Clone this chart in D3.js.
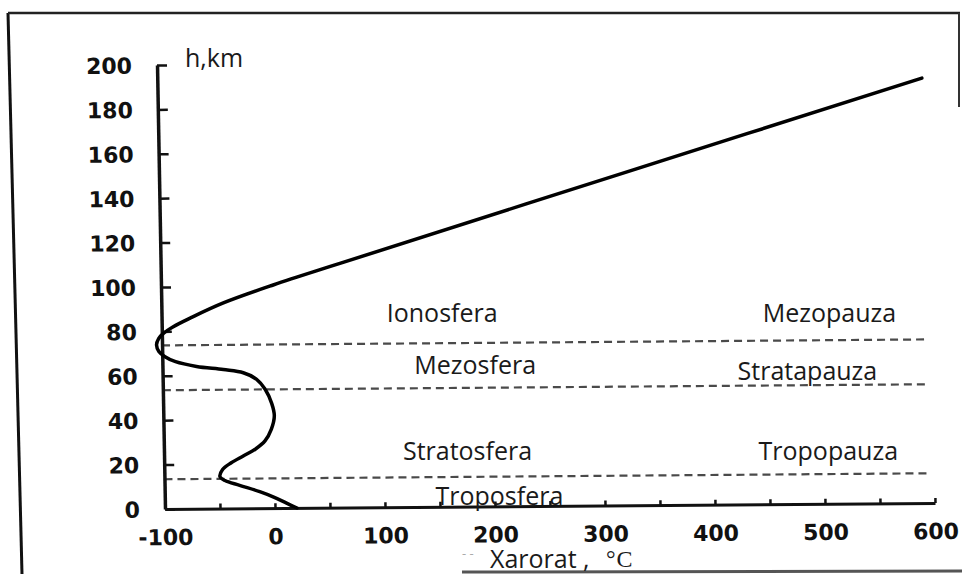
<!DOCTYPE html>
<html><head><meta charset="utf-8">
<script src="https://cdn.jsdelivr.net/npm/d3@7"></script>
<style>body{margin:0;background:#fff;} svg{display:block;}</style>
</head><body>
<svg id="chart" width="962" height="574"></svg>
<script>
// ---- data ----
const altitudeKm   = [0, 2.2, 5, 7.5, 10.4, 12.6, 14.4, 17.6, 20.6, 23.6, 26.6, 30.3, 35.6, 41.6, 47.2, 53.6, 58.1, 61.1, 62.6, 64.1, 66.3, 68.6, 71, 73.9, 76.8, 79.1, 82.1, 85.9, 92.6, 100.5, 110, 150, 191.4];
const temperatureC = [20, 10.6, -1, -13.6, -31.8, -45, -49.5, -47, -39, -28, -17, -8, -2, 0.9, -1.3, -7, -14.6, -26.6, -44.7, -69, -88, -97.5, -103, -105, -103, -98.6, -89.5, -74, -43.6, 2, 63, 324, 595];

const tempTicks   = [-100, -50, 0, 50, 100, 150, 200, 250, 300, 350, 400, 450, 500, 550, 600];
const tempLabels  = [-100, 0, 100, 200, 300, 400, 500, 600];
const altTicks    = [0, 20, 40, 60, 80, 100, 120, 140, 160, 180, 200];

const pauseAltKm  = [73.7, 53.5, 13.4];

const layerNames  = ["Ionosfera", "Mezopauza", "Mezosfera", "Stratapauza", "Stratosfera", "Tropopauza", "Troposfera"];
const layerTemp   = [152, 504, 182, 484, 175, 503, 204];
const layerAlt    = [84.2, 84.2, 60.8, 58.1, 22.1, 22.1, 1.8];

const yTitle = "h,km";
const xTitle = "Xarorat ,";
const xUnit  = "°C";

// ---- layout ----
const W = 962, H = 574;
const svg = d3.select("#chart");
svg.append("rect").attr("width", W).attr("height", H).attr("fill", "#fff");

const x = d3.scaleLinear().domain([-100, 600]).range([165, 935]);
const y = d3.scaleLinear().domain([0, 200]).range([509, 65]);

// outer frame of the scanned figure
const frame = svg.append("g").attr("fill", "none");
frame.append("path").attr("d", "M8,13L22,574").attr("stroke", "#111").attr("stroke-width", 3);
frame.append("path").attr("d", "M8,13L960,13").attr("stroke", "#222").attr("stroke-width", 2.5);
frame.append("path").attr("d", "M959,13L959,107").attr("stroke", "#333").attr("stroke-width", 2);
frame.append("path").attr("d", "M462,572L962,571").attr("stroke", "#555").attr("stroke-width", 3);

// scanned chart is slightly skewed
const sx = 0.018, sy = -0.0078;
const g = svg.append("g")
  .attr("transform", `matrix(1,${sy},${sx},1,${-sx * y(0)},${-sy * x(-100)})`);

// dashed layer boundaries
g.append("g").selectAll("line").data(pauseAltKm).join("line")
  .attr("x1", x(-100)).attr("x2", x(596))
  .attr("y1", d => y(d)).attr("y2", d => y(d))
  .attr("stroke", "#4a4a4a").attr("stroke-width", 2.2)
  .attr("stroke-dasharray", "8,5");

// x axis (ticks inside, labels below)
const gx = g.append("g").attr("transform", `translate(0,${y(0)})`)
  .call(d3.axisTop(x).tickValues(tempTicks).tickSize(5).tickSizeOuter(0)
    .tickFormat(d => tempLabels.includes(d) ? String(d) : ""));
gx.select(".domain").attr("stroke", "#111").attr("stroke-width", 3);
gx.selectAll(".tick line").attr("stroke", "#111").attr("stroke-width", 2.5);
gx.selectAll(".tick text")
  .attr("y", 36).attr("dy", 0).attr("text-anchor", "middle")
  .attr("font-family", "DejaVu Sans").attr("font-weight", "bold")
  .attr("font-size", 22).attr("fill", "#111");

// y axis (ticks inside, labels left)
const gy = g.append("g").attr("transform", `translate(${x(-100)},0)`)
  .call(d3.axisRight(y).tickValues(altTicks).tickSize(10).tickSizeOuter(0)
    .tickFormat(d => String(d)));
gy.select(".domain").attr("stroke", "#111").attr("stroke-width", 3.5);
gy.selectAll(".tick line").attr("stroke", "#111").attr("stroke-width", 2.5);
gy.selectAll(".tick text")
  .attr("x", -25).attr("dy", "0.36em").attr("text-anchor", "end")
  .attr("font-family", "DejaVu Sans").attr("font-weight", "bold")
  .attr("font-size", 22).attr("fill", "#111");

// temperature profile
const pts = altitudeKm.map((h, i) => ({ h, t: temperatureC[i] }));
g.append("path").datum(pts)
  .attr("fill", "none").attr("stroke", "#000").attr("stroke-width", 3.5)
  .attr("stroke-linejoin", "round").attr("stroke-linecap", "round")
  .attr("d", d3.line().x(d => x(d.t)).y(d => y(d.h)).curve(d3.curveCatmullRom.alpha(0.5)));

// added labels (not skewed)
const lab = svg.append("g").attr("font-family", "'Open Sans', sans-serif").attr("fill", "#1a1a1a");
lab.selectAll("text.layer").data(layerNames).join("text").attr("class", "layer")
  .attr("x", (d, i) => x(layerTemp[i])).attr("y", (d, i) => y(layerAlt[i]))
  .attr("text-anchor", "middle").attr("font-size", 25).text(d => d);

lab.append("text").attr("x", x(-81.8)).attr("y", y(199.1)).attr("font-size", 25).text(yTitle);
lab.append("text").attr("x", 462).attr("y", 558).attr("font-size", 13).attr("fill", "#aaa").text("- -");
lab.append("text").attr("x", 490).attr("y", 568).attr("font-size", 25).text(xTitle);
lab.append("text").attr("x", 606).attr("y", 567).attr("font-size", 24)
  .attr("font-family", "'Liberation Serif', serif").attr("letter-spacing", 1).text(xUnit);
</script>
</body></html>
